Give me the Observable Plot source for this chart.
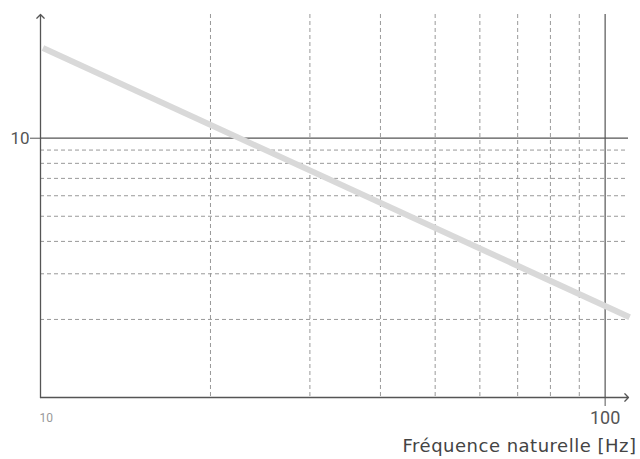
<!DOCTYPE html>
<html>
<head>
<meta charset="utf-8">
<script src="https://cdn.jsdelivr.net/npm/d3@7"></script>
<script src="https://cdn.jsdelivr.net/npm/@observablehq/plot@0.6"></script>
<style>
  html, body { margin: 0; padding: 0; background: #fff; }
  svg { display: block; }
  .xtitle text { letter-spacing: 0.5px; }
</style>
</head>
<body>
<div id="chart"></div>
<script>
// Data
const frequencies = [10.1, 110.5];
const values = [22.3, 2.04];
const xDomain = [10, 110];
const yDomain = [1, 30];
const xMinorGrid = [20, 30, 40, 50, 60, 70, 80, 90];
const yMinorGrid = [2, 3, 4, 5, 6, 7, 8, 9];
const xMajor = [100];
const yMajor = [10];
const xOriginLabel = [10];
const xTitle = "Fréquence naturelle [Hz]";

const series = frequencies.map((f, i) => ({f, v: values[i]}));
const axisColor = "#555";
const gridColor = "#999";
const font = "Roboto, 'DejaVu Sans', sans-serif";

const chart = Plot.plot({
  width: 640,
  height: 459,
  marginLeft: 40,
  marginTop: 14,
  marginRight: 12,
  marginBottom: 62,
  style: {fontFamily: font, background: "#fff"},
  x: {type: "log", domain: xDomain, axis: null},
  y: {type: "log", domain: yDomain, axis: null},
  marks: [
    Plot.ruleX(xMinorGrid, {x: d => d, stroke: gridColor, strokeDasharray: "4,3", strokeWidth: 1}),
    Plot.ruleY(yMinorGrid, {y: d => d, stroke: gridColor, strokeDasharray: "4,3", strokeWidth: 1}),
    Plot.ruleX(xMajor, {x: d => d, stroke: axisColor, strokeWidth: 1.2}),
    Plot.ruleY(yMajor, {y: d => d, stroke: axisColor, strokeWidth: 1.2}),
    Plot.line(series, {x: "f", y: "v", stroke: "#d9d9d9", strokeWidth: 6, strokeLinecap: "butt"}),
    // axis lines with arrows
    Plot.arrow([{x1: xDomain[0], y1: yDomain[0], x2: xDomain[0], y2: yDomain[1]}],
      {x1: "x1", y1: "y1", x2: "x2", y2: "y2", stroke: axisColor, strokeWidth: 1.3, headLength: 6, headAngle: 90, insetStart: 0, insetEnd: 0}),
    Plot.arrow([{x1: xDomain[0], y1: yDomain[0], x2: xDomain[1], y2: yDomain[0]}],
      {x1: "x1", y1: "y1", x2: "x2", y2: "y2", stroke: axisColor, strokeWidth: 1.3, headLength: 6, headAngle: 90, insetStart: 0, insetEnd: 0}),
    Plot.axisY({ticks: yMajor, tickSize: 10, tickPadding: 1, stroke: axisColor, fill: axisColor, fontSize: 17, tickFormat: d => String(d), label: null}),
    Plot.axisX({ticks: xMajor, tickSize: 9, tickPadding: 5, stroke: axisColor, fill: axisColor, fontSize: 18, tickFormat: d => String(d), label: null}),
    Plot.text(xOriginLabel, {x: d => d, frameAnchor: "bottom", text: d => String(d), textAnchor: "start", dx: -1, dy: 24, fontSize: 12, fill: "#999"}),
    Plot.text([xTitle], {frameAnchor: "bottom-right", text: d => d, textAnchor: "end", dx: 8, dy: 54, fontSize: 18, fill: "#444", fontFamily: "'DejaVu Sans', sans-serif", className: "xtitle"})
  ]
});
document.getElementById("chart").appendChild(chart);
</script>
</body>
</html>
